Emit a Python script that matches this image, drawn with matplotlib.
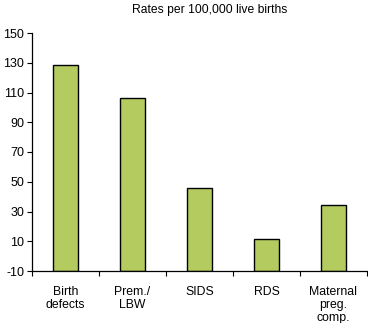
import numpy as np
import matplotlib
matplotlib.use("Agg")
import matplotlib.pyplot as plt

plt.rcParams['font.family'] = ['Liberation Sans', 'DejaVu Sans']

# data
categories = ["Birth\ndefects", "Prem./\nLBW", "SIDS", "RDS", "Maternal\npreg.\ncomp."]
rates = [128.7, 106.4, 46.0, 11.3, 34.1]
yticks = list(range(-10, 151, 20))

fig = plt.figure(figsize=(3.68, 3.23), dpi=100)
ax = fig.add_axes([32 / 368, 52 / 323, 335 / 368, 238 / 323])

x = np.arange(len(categories))
# bars start at the bottom of the axis (-10)
ax.bar(x, [r + 10 for r in rates], bottom=-10, width=0.36, color="#b3cb5f",
       edgecolor="black", linewidth=1.0, zorder=2)

ax.set_xlim(-0.5, len(categories) - 0.5)
ax.set_ylim(-10, 150)
ax.set_yticks(yticks)
ax.set_yticklabels([str(t) for t in yticks], fontsize=9)

ax.set_xticks(x)
ax.set_xticklabels(categories, fontsize=8.8, linespacing=1.15)
ax.set_xticks(np.arange(-0.5, len(categories)), minor=True)
ax.tick_params(axis="x", which="major", length=0, pad=10.5)
ax.tick_params(axis="x", which="minor", length=3.5, width=0.8)
ax.tick_params(axis="y", length=3.5, width=0.8, pad=2)

for side in ("top", "right"):
    ax.spines[side].set_visible(False)
for side in ("left", "bottom"):
    ax.spines[side].set_linewidth(0.9)

fig.text(210 / 368, 1 - 10 / 323, "Rates per 100,000 live births", ha="center",
         va="center", fontsize=8.7)

fig.savefig("out.png", dpi=100)
